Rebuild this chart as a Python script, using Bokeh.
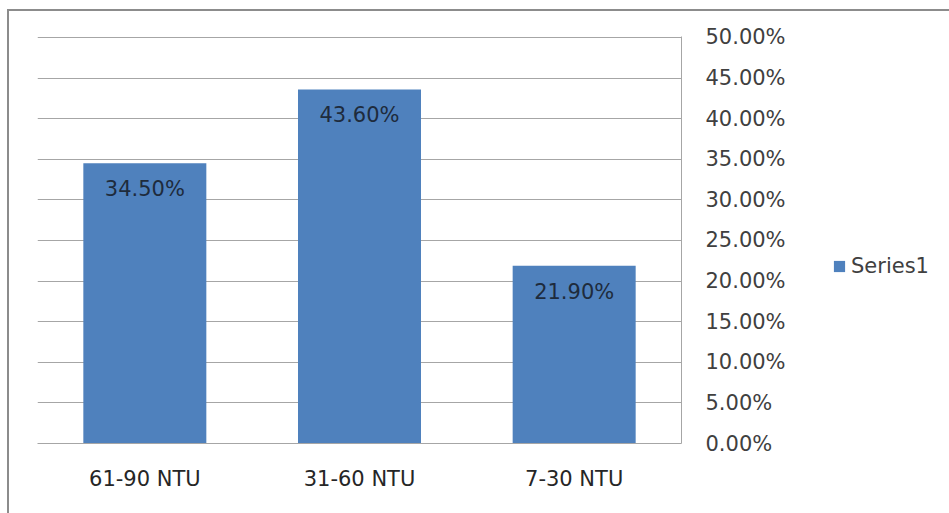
from bokeh.plotting import figure
from bokeh.models import (ColumnDataSource, FactorRange, Range1d, NumeralTickFormatter,
                          LabelSet, Legend, LegendItem, SingleIntervalTicker, InlineStyleSheet)
from bokeh.core.properties import value
from bokeh.embed import file_html
from bokeh.resources import INLINE

categories = ["61-90 NTU", "31-60 NTU", "7-30 NTU"]
values = [0.345, 0.436, 0.219]
labels = ["34.50%", "43.60%", "21.90%"]
series_name = "Series1"

FONT = "DejaVu Sans"

src = ColumnDataSource(data=dict(cat=categories, val=values, lab=labels))

p = figure(frame_width=644, frame_height=407, output_backend="svg", toolbar_location=None,
           x_range=FactorRange(*categories, range_padding=0),
           y_range=Range1d(0, 0.50123), y_axis_location="right",
           min_border_left=28, min_border_top=25, min_border_bottom=70, min_border_right=0,
           margin=(9, 0, 0, 7))
p.stylesheets = [InlineStyleSheet(css=":host { border-top: 2px solid #8c8c8c; border-left: 2px solid #8c8c8c; }")]
p.outline_line_color = None
p.background_fill_color = "white"
p.border_fill_color = "white"

r = p.vbar(x="cat", top="val", width=0.573, source=src, fill_color="#4f81bd", line_color=None)

grid_col = "#a6a6a6"
p.xgrid.grid_line_color = None
p.ygrid.grid_line_color = grid_col
p.ygrid.grid_line_width = 1

ya = p.yaxis[0]
ya.ticker = SingleIntervalTicker(interval=0.05)
ya.formatter = NumeralTickFormatter(format="0.00%")
ya.major_tick_line_color = None
ya.minor_tick_line_color = None
ya.major_tick_out = 0
ya.major_tick_in = 0
ya.axis_line_color = grid_col
ya.major_label_standoff = 20
ya.major_label_text_font = FONT
ya.major_label_text_font_size = "21px"
ya.major_label_text_color = "#404040"

xa = p.xaxis[0]
xa.major_tick_line_color = None
xa.minor_tick_line_color = None
xa.major_tick_out = 0
xa.major_tick_in = 0
xa.axis_line_color = grid_col
xa.major_label_standoff = 23
xa.major_label_text_font = FONT
xa.major_label_text_font_size = "21px"
xa.major_label_text_color = "#262626"

lbl = LabelSet(x="cat", y="val", text="lab", source=src, y_offset=-26,
               text_align="center", text_baseline="middle",
               text_font=value(FONT), text_font_size=value("21px"), text_color="#1e2b3c")
p.add_layout(lbl)

legend = Legend(items=[LegendItem(label=series_name, renderers=[r])],
                location=(-200, 165), border_line_color=None, background_fill_alpha=0,
                glyph_width=14, glyph_height=14, label_standoff=5, margin=0, padding=0,
                label_text_font=FONT, label_text_font_size="21px", label_text_color="#404040")
p.add_layout(legend, "right")

open("out.html", "w").write(file_html(p, INLINE))
